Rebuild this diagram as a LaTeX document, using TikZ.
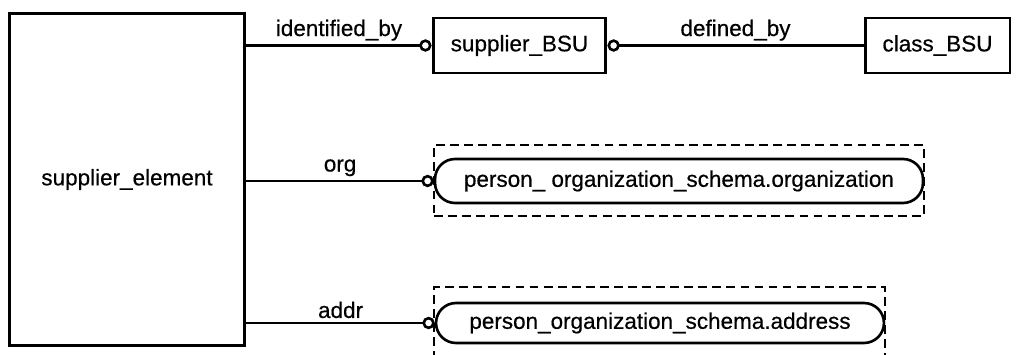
\documentclass[tikz,border=0pt]{standalone}
\usepackage{fontspec}
\setmainfont{Liberation Sans}[FakeBold=0.5]
\usepackage{tikz}
\usetikzlibrary{arrows.meta}
\usetikzlibrary{positioning}
\usetikzlibrary{calc}
\tikzstyle{entity}=[rectangle,draw,line width=1.7pt,inner sep=0pt]
\tikzstyle{extentity}=[rectangle,draw,rounded corners=0.4cm,line width=1.5pt,inner sep=0pt]
\tikzstyle{schemaframe}=[draw,dash pattern=on 5pt off 3pt,line width=1.5pt]
\tikzstyle{rel} = [draw,line width=1.5pt]
\tikzstyle{optend} = [-{Circle[open,length=7pt]}]
\tikzstyle{optstart} = [{Circle[open,length=7pt]}-]
\tikzstyle{rolename} = [above,inner sep=2pt]

\begin{document}
\begin{tikzpicture}[x=0.02cm,y=-0.02cm,font=\fontsize{12.8}{15}\selectfont]
    \useasboundingbox (0,0) rectangle (1018,355);
    % First we draw the entities
    \node[entity,minimum width=4.72cm,minimum height=6.66cm] (elem) at (127,179.5) {supplier\_element};
    \foreach \pos/\name/\w/\label in {{(519.5,45.5)/sbsu/3.46cm/supplier\_BSU}, {(937.5,45.5)/cbsu/2.9cm/class\_BSU}}
        \node[entity,minimum width=\w,minimum height=1.1cm] (\name) at \pos {\label};

    % Then the entities of the other schema, in their dashed frames
    \node[schemaframe,minimum width=9.8cm,minimum height=1.42cm] (orgframe) at (679,180.5) {};
    \node[extentity,minimum width=9.76cm,minimum height=0.88cm] (org) at (679,181) {person\_ organization\_schema.organization};
    \node[extentity,minimum width=8.96cm,minimum height=0.8cm] (addr) at (660,323) {person\_organization\_schema.address};
    \draw[schemaframe] (434,360) |- (885,287) -- (885,360);

    % Connect entities with relations and draw role names
    \path[rel,optend] (elem.east |- sbsu) -- node[rolename] {identified\_by} (sbsu.west);
    \path[rel,optstart] (sbsu.east) -- node[rolename] {defined\_by} (cbsu.west);
    \foreach \dest/\role in {org/org, addr/addr}
        \path[rel,optend] (elem.east |- \dest) -- node[rolename] {\role} (\dest.west);
\end{tikzpicture}
\end{document}
